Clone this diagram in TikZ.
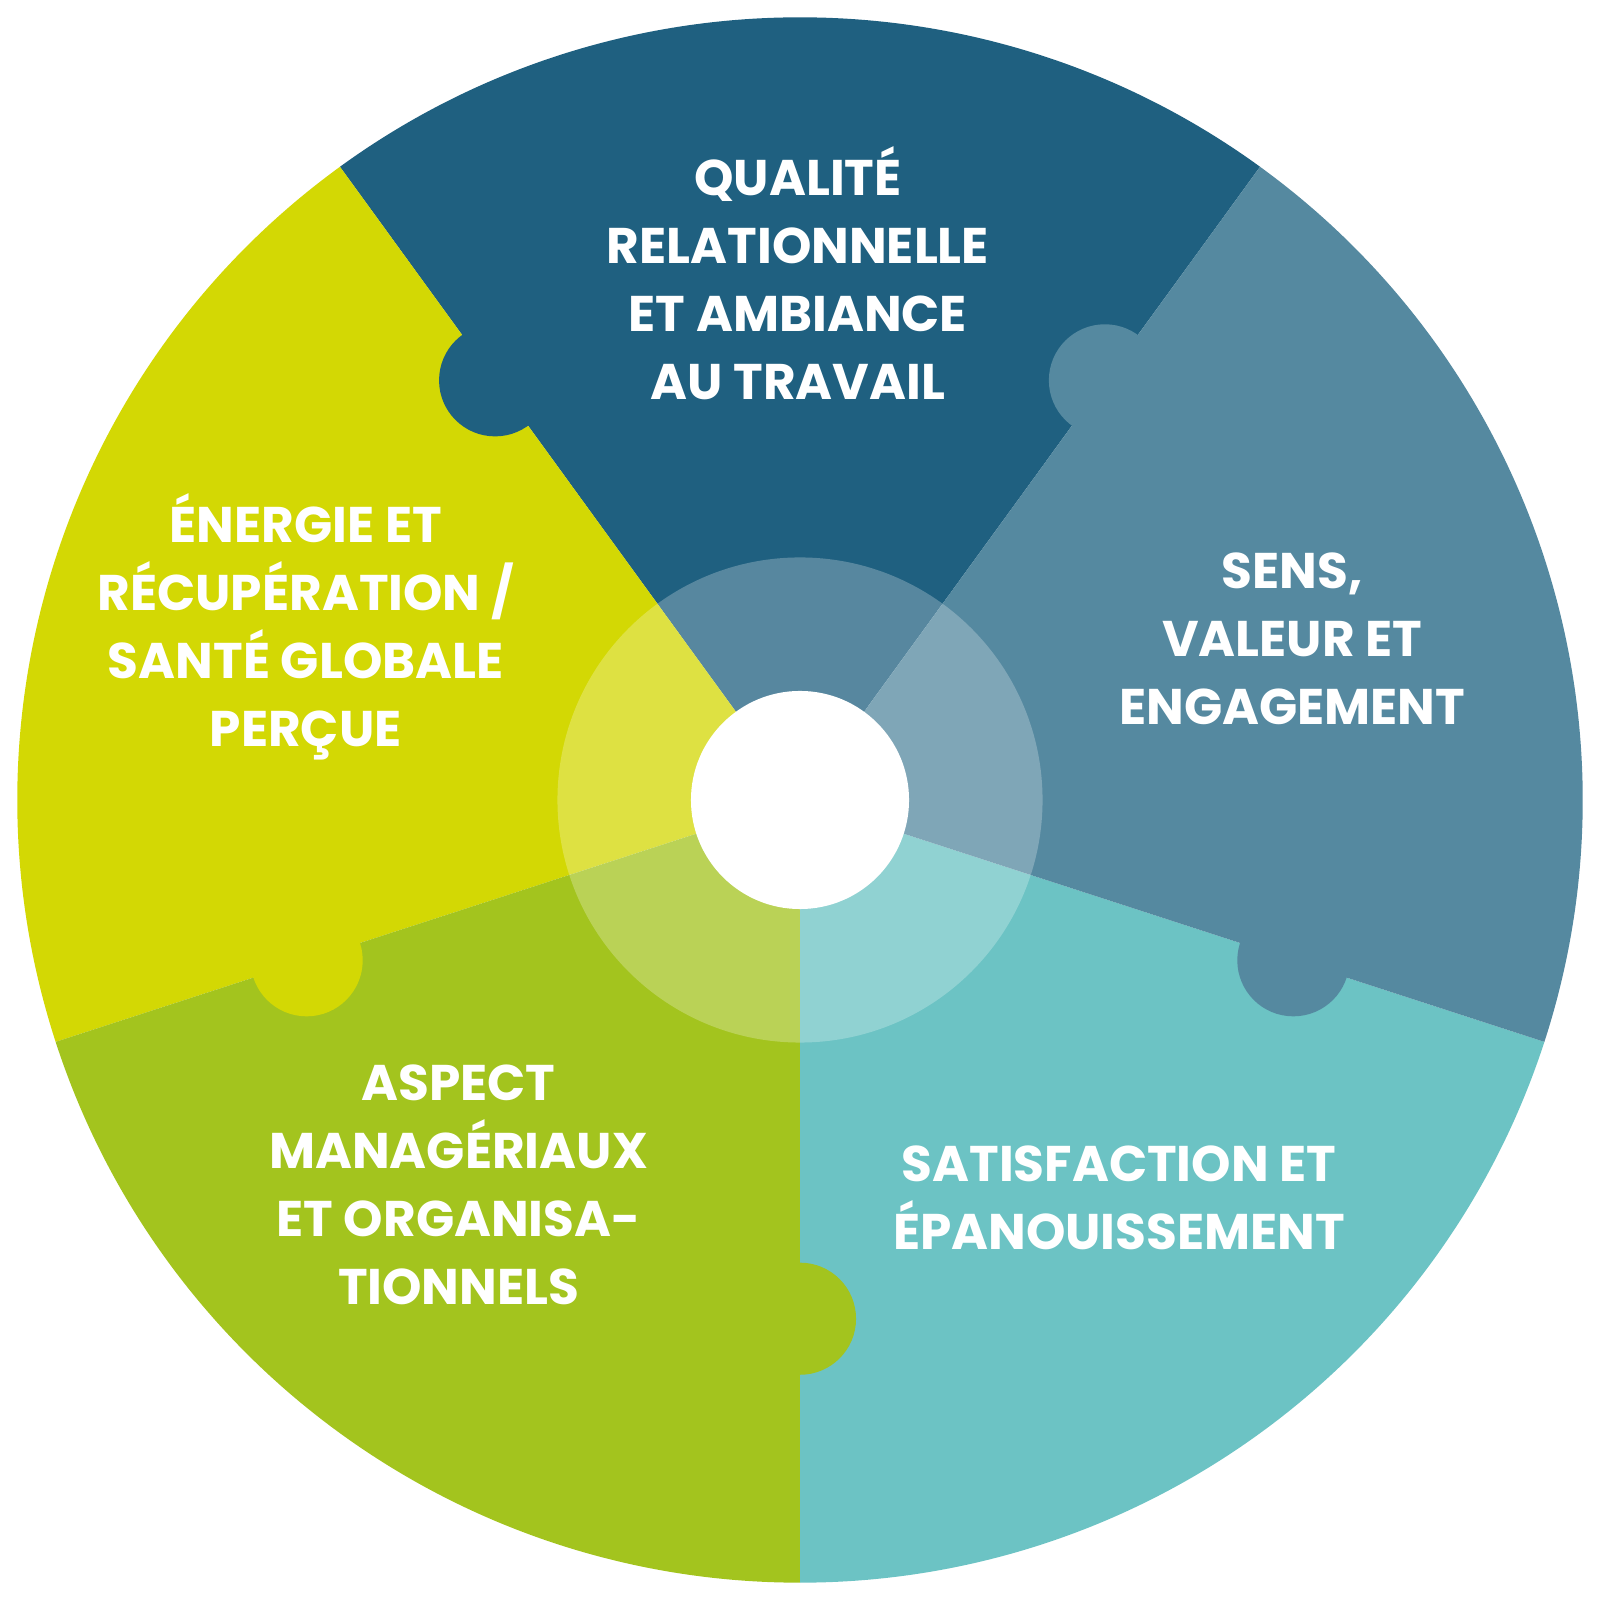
\documentclass[tikz,border=0pt]{standalone}
\usepackage{fontspec}
\usetikzlibrary{calc}
\setmainfont{Poppins}
\definecolor{cA}{HTML}{1F6080}
\definecolor{cB}{HTML}{5589A0}
\definecolor{cC}{HTML}{6CC3C4}
\definecolor{cD}{HTML}{A3C41E}
\definecolor{cE}{HTML}{D3D804}
\tikzset{lbl/.style={text=white,align=center,font=\fontsize{14}{19}\selectfont\bfseries}}
\begin{document}
\begin{tikzpicture}
\useasboundingbox (0,0) rectangle (15.7,15.7);
\coordinate (O) at (7.85,7.85);
\def\R{7.68}
\fill[cA] (O) -- ++(54:\R) arc (54:126:\R) -- cycle;
\fill[cE] (O) -- ++(126:\R) arc (126:198:\R) -- cycle;
\fill[cD] (O) -- ++(198:\R) arc (198:270:\R) -- cycle;
\fill[cC] (O) -- ++(270:\R) arc (270:342:\R) -- cycle;
\fill[cB] (O) -- ++(342:\R) arc (342:414:\R) -- cycle;
\fill[cA] ($(O)+(126:5.09)$) circle (0.55);
\fill[cB] ($(O)+(54:5.09)$) circle (0.55);
\fill[cB] ($(O)+(-18:5.09)$) circle (0.55);
\fill[cE] ($(O)+(198:5.09)$) circle (0.55);
\fill[cD] ($(O)+(270:5.09)$) circle (0.55);
\fill[white,opacity=0.25] (O) circle (2.38);
\fill[white] (O) circle (1.07);
\node[lbl] (t1) at (7.83,13.02) {QUALITÉ\\RELATIONNELLE\\ET AMBIANCE\\AU TRAVAIL};
\node[lbl] (t2) at (12.68,9.43) {SENS,\\VALEUR ET\\ENGAGEMENT};
\node[lbl] (t3) at (10.98,3.95) {SATISFACTION ET\\ÉPANOUISSEMENT};
\node[lbl] (t4) at (4.5,4.07) {ASPECT\\MANAGÉRIAUX\\ET ORGANISA-\\TIONNELS};
\node[lbl] (t5) at (3.0,9.55) {ÉNERGIE ET\\RÉCUPÉRATION /\\SANTÉ GLOBALE\\PERÇUE};
\end{tikzpicture}
\end{document}
